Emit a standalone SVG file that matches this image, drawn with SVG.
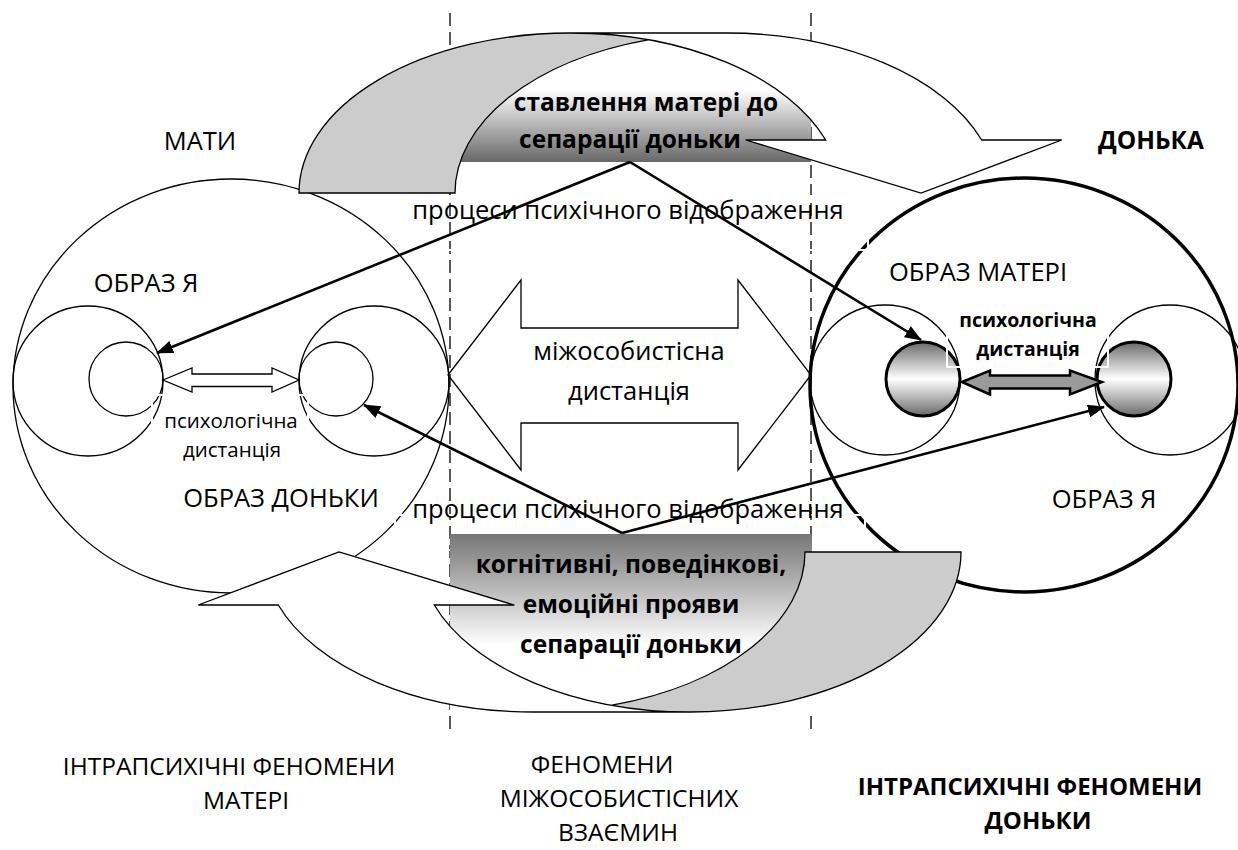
<svg xmlns="http://www.w3.org/2000/svg" width="1238" height="850" viewBox="0 0 1238 850">
<defs>
<style>
.t{font-family:"Open Sans","Noto Sans","DejaVu Sans",sans-serif;fill:#000;text-anchor:middle}
.r{font-size:25.5px}
.rl{font-size:24.5px}
.b{font-size:24.5px;font-weight:bold}
.bl{font-size:24px;font-weight:bold}
.s{font-size:20.5px}
.sb{font-size:19.5px;font-weight:bold}
.thin{fill:none;stroke:#000;stroke-width:1.3}
.dash{stroke:#000;stroke-width:1.3;stroke-dasharray:13 6;fill:none}
.wbox{fill:none;stroke:#fff;stroke-width:2}
.conn{stroke:#000;stroke-width:2.6;fill:none;marker-end:url(#ah)}
.band{fill:#cccccc;stroke:none}
.front{fill:#fff;stroke:none}
.edge{fill:none;stroke:#000;stroke-width:1.3;stroke-linejoin:miter}
.ball{fill:url(#gBall);stroke:#000;stroke-width:3}
</style>
<linearGradient id="gTop" x1="0" y1="0" x2="0" y2="1">
<stop offset="0" stop-color="#ffffff"/>
<stop offset="0.38" stop-color="#ffffff"/>
<stop offset="1" stop-color="#686868"/>
</linearGradient>
<linearGradient id="gBot" x1="0" y1="0" x2="0" y2="1">
<stop offset="0" stop-color="#767676"/>
<stop offset="0.62" stop-color="#ffffff"/>
<stop offset="1" stop-color="#ffffff"/>
</linearGradient>
<linearGradient id="gBall" x1="0" y1="0" x2="0" y2="1">
<stop offset="0" stop-color="#6a6a6a"/>
<stop offset="0.5" stop-color="#ffffff"/>
<stop offset="1" stop-color="#6a6a6a"/>
</linearGradient>
<marker id="ah" markerWidth="17" markerHeight="13" refX="16" refY="6.5" orient="auto" markerUnits="userSpaceOnUse">
<path d="M0,0 L17,6.5 L0,13 Z" fill="#000"/>
</marker>
</defs>

<rect width="1238" height="850" fill="#fff"/>

<g id="dividers">
<line class="dash" x1="450" y1="13" x2="450" y2="735"/>
<line class="dash" x1="811" y1="13" x2="811" y2="735"/>
</g>

<g id="mother">
<ellipse class="thin" cx="231" cy="386" rx="218" ry="207"/>
<circle class="thin" cx="88" cy="381" r="75"/>
<circle class="thin" cx="126" cy="379" r="37"/>
<circle class="thin" cx="374" cy="381" r="75"/>
<circle class="thin" cx="336" cy="379" r="37"/>
<path class="thin" d="M163,380 L192,368 L192,374 L272,374 L272,368 L299,380 L272,392 L272,386.5 L192,386.5 L192,392 Z" fill="#fff"/>
</g>

<g id="daughter">
<ellipse cx="1024" cy="385" rx="214" ry="207" fill="none" stroke="#000" stroke-width="3.5"/>
<circle class="thin" cx="885" cy="380" r="75"/>
<circle class="thin" cx="1170" cy="380" r="75"/>
<circle class="ball" cx="923" cy="379" r="37"/>
<circle class="ball" cx="1134" cy="379" r="37"/>
<path d="M962,382 L990,370.5 L990,375.5 L1070,375.5 L1070,370.5 L1102,382 L1070,394.5 L1070,388.5 L990,388.5 L990,394.5 Z" fill="#9a9a9a" stroke="#000" stroke-width="2.5"/>
</g>

<g id="textbox-edges">
<rect class="wbox" x="152" y="395" width="156" height="70"/>
<rect class="wbox" x="947" y="300" width="161" height="67"/>
<rect class="wbox" x="400" y="196" width="468" height="54"/>
<rect class="wbox" x="395" y="515" width="470" height="35"/>
</g>

<g id="attitude">
<rect x="450" y="45" width="361" height="117" fill="url(#gTop)"/>
<path class="band" d="M299,193 A271,160 0 0 1 648,39.8 A271,160 0 0 0 455,193 Z"/>
<path class="front" d="M825.7,140 A271,160 0 0 0 570,33 L726,33 A271,160 0 0 1 981.7,140 L1061.7,140 L921,193 L745.7,140 Z"/>
<path class="edge" d="M648,39.8 A271,160 0 0 0 455,193 L299,193 A271,160 0 0 1 570,33 L726,33 A271,160 0 0 1 981.7,140 L1061.7,140 L921,193 L745.7,140 L825.7,140 A271,160 0 0 0 570,33"/>
<text class="t b" x="646" y="111">ставлення матері до</text>
<text class="t b" x="630" y="148">сепарації доньки</text>
</g>

<g id="manifestations">
<rect x="450" y="534" width="362" height="180" fill="url(#gBot)"/>
<g transform="rotate(180 630 372.5)">
<path class="band" d="M299,193 A271,160 0 0 1 648,39.8 A271,160 0 0 0 455,193 Z"/>
<path class="front" d="M825.7,140 A271,160 0 0 0 570,33 L726,33 A271,160 0 0 1 981.7,140 L1061.7,140 L921,193 L745.7,140 Z"/>
<path class="edge" d="M648,39.8 A271,160 0 0 0 455,193 L299,193 A271,160 0 0 1 570,33 L726,33 A271,160 0 0 1 981.7,140 L1061.7,140 L921,193 L745.7,140 L825.7,140 A271,160 0 0 0 570,33"/>
</g>
<text class="t b" x="631" y="573">когнітивні, поведінкові,</text>
<text class="t b" x="631" y="613">емоційні прояви</text>
<text class="t b" x="631" y="653">сепарації доньки</text>
</g>

<g id="interpersonal-distance">
<path class="thin" fill="#fff" d="M448,375 L521,280 L521,328 L738,328 L738,280 L811,375 L738,470 L738,423 L521,423 L521,470 Z"/>
<text class="t r" x="629" y="360">міжособистісна</text>
<text class="t r" x="629" y="400">дистанція</text>
</g>

<g id="labels">
<text class="t r" x="200" y="150">МАТИ</text>
<text class="t b" x="1151" y="149">ДОНЬКА</text>
<text class="t r" x="628" y="219">процеси психічного відображення</text>
<text class="t r" x="628" y="518">процеси психічного відображення</text>
<text class="t r" x="146" y="292">ОБРАЗ Я</text>
<text class="t r" x="281" y="507">ОБРАЗ ДОНЬКИ</text>
<text class="t s" x="231" y="428">психологічна</text>
<text class="t s" x="232" y="457">дистанція</text>
<text class="t r" x="978" y="281">ОБРАЗ МАТЕРІ</text>
<text class="t r" x="1104" y="508">ОБРАЗ Я</text>
<text class="t sb" x="1028" y="327">психологічна</text>
<text class="t sb" x="1028" y="356">дистанція</text>
<text class="t rl" x="229" y="775">ІНТРАПСИХІЧНІ ФЕНОМЕНИ</text>
<text class="t rl" x="246" y="809">МАТЕРІ</text>
<text class="t rl" x="602" y="773">ФЕНОМЕНИ</text>
<text class="t rl" x="619" y="807">МІЖОСОБИСТІСНИХ</text>
<text class="t rl" x="618" y="841">ВЗАЄМИН</text>
<text class="t bl" x="1030" y="795">ІНТРАПСИХІЧНІ ФЕНОМЕНИ</text>
<text class="t bl" x="1038" y="829">ДОНЬКИ</text>
</g>

<g id="connectors">
<path class="conn" d="M630,162 L157,353"/>
<path class="conn" d="M630,162 L921,340"/>
<path class="conn" d="M622,533 L364,405"/>
<path class="conn" d="M622,533 L1104,407"/>
</g>
</svg>
